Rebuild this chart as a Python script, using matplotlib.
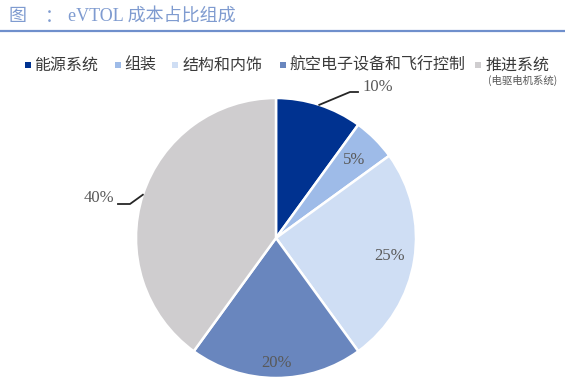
import matplotlib
matplotlib.use("Agg")
import matplotlib.pyplot as plt
from matplotlib.lines import Line2D
from matplotlib.patches import Rectangle
import numpy as np

categories = ["能源系统", "组装", "结构和内饰", "航空电子设备和飞行控制", "推进系统"]
values = [10, 5, 25, 20, 40]
pct_labels = ["10%", "5%", "25%", "20%", "40%"]
colors = ["#003290", "#9ebbe8", "#cfdef4", "#6986be", "#cfcdcf"]

W, H = 565, 388
fig = plt.figure(figsize=(W / 100, H / 100), dpi=100)
fig.patch.set_facecolor("white")

CX, CY, R = 276, 238, 140
ax = fig.add_axes([(CX - R) / W, (H - CY - R) / H, 2 * R / W, 2 * R / H])
wedges, _ = ax.pie(values, colors=colors, startangle=90, counterclock=False,
                   radius=1, wedgeprops=dict(edgecolor="white", linewidth=1.8))
ax.set_xlim(-1, 1)
ax.set_ylim(-1, 1)
ax.set_aspect("equal")
ax.axis("off")

serif = ["Liberation Serif", "Noto Sans CJK SC"]
cjk = ["Noto Sans CJK SC", "DejaVu Sans"]
pct_color = "#595959"

def px(x, y):
    return (x - CX) / R, (CY - y) / R

cum = np.cumsum([0] + values)
total = sum(values)

def mid_angle(i):
    return np.deg2rad((cum[i] + cum[i + 1]) / 2 / total * 360)

# inside labels
inside_r = {1: 0.79, 2: 0.82, 3: 0.89}
for i, r in inside_r.items():
    a = mid_angle(i)
    ax.text(r * np.sin(a), r * np.cos(a), pct_labels[i], ha="center", va="center",
            fontsize=12, color=pct_color, family=serif)

# outside labels with leaders
a0 = mid_angle(0)
e0 = (np.sin(a0), np.cos(a0))
p1 = px(350, 92); p2 = px(358, 92)
ax.plot([e0[0], p1[0], p2[0]], [e0[1], p1[1], p2[1]], color="#262626", lw=1.3, clip_on=False)
t = px(362, 87)
ax.text(t[0], t[1], pct_labels[0], ha="left", va="center", fontsize=12, color=pct_color, family=serif)

a4 = mid_angle(4)
e4 = (np.sin(a4), np.cos(a4))
q1 = px(130, 204); q2 = px(118, 204)
ax.plot([e4[0], q1[0], q2[0]], [e4[1], q1[1], q2[1]], color="#262626", lw=1.3, clip_on=False)
t = px(114, 198)
ax.text(t[0], t[1], pct_labels[4], ha="right", va="center", fontsize=12, color=pct_color, family=serif)

# title and rule
tc = "#7f9bd0"
fig.text(9 / W, 1 - 17 / H, "图", ha="left", va="center", fontsize=13, color=tc, family=serif)
fig.text(45 / W, 1 - 17 / H, "：", ha="left", va="center", fontsize=13, color=tc, family=serif)
fig.text(68 / W, 1 - 17 / H, "eVTOL 成本占比组成", ha="left", va="center",
         fontsize=13, color=tc, family=serif)
fig.add_artist(Line2D([0, 1], [1 - 31 / H, 1 - 31 / H], color="#6f8fcc", lw=1.6,
                      transform=fig.transFigure))

# legend (manual layout)
sq_x = [25, 115, 172, 280, 475]
tx_x = [34, 124, 183, 289, 486]
ly = 65
sq = 6
for c, lab, sx, tx in zip(colors, categories, sq_x, tx_x):
    fig.add_artist(Rectangle((sx / W, 1 - (ly + sq / 2) / H), sq / W, sq / H,
                             facecolor=c, edgecolor="none", transform=fig.transFigure))
    fig.text(tx / W, 1 - ly / H, lab, ha="left", va="center", fontsize=11.5,
             color="#3a3a3a", family=cjk, weight="medium")

fig.text(488 / W, 1 - 80 / H, "(电驱电机系统)", ha="left", va="center", fontsize=7.5,
         color="#595959", family=cjk)

fig.savefig("out.png", dpi=100, facecolor="white")
